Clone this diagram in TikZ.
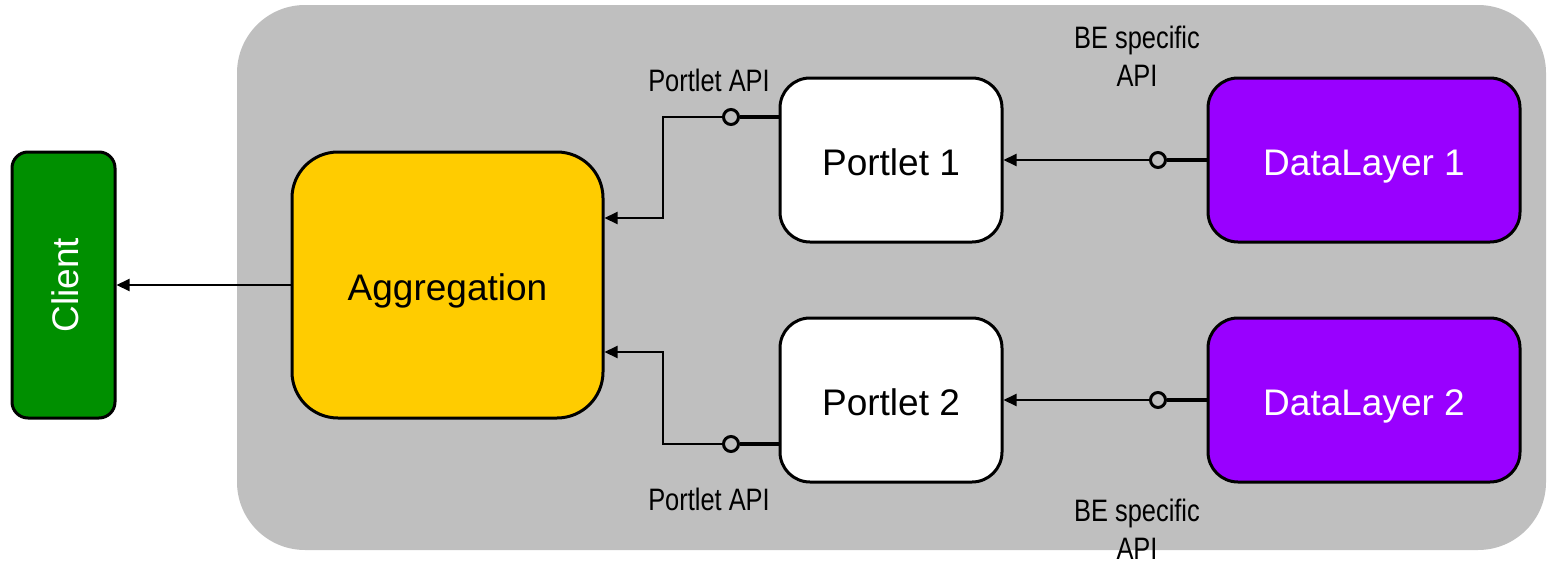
\documentclass[tikz,border=0pt]{standalone}
\usepackage{fontspec}
\setmainfont{Liberation Sans}
\newfontfamily\narrowfont[FakeStretch=0.82]{Liberation Sans}
\usetikzlibrary{arrows.meta,calc}
\definecolor{bggray}{HTML}{BFBFBF}
\definecolor{clientgreen}{HTML}{008F00}
\definecolor{agggold}{HTML}{FFCC00}
\definecolor{dlpurple}{HTML}{9900FF}
\tikzset{
  box/.style={draw=black, line width=3pt, inner sep=0pt, text height=30pt, text depth=0pt, font=\fontsize{37}{44}\selectfont},
  conn/.style={draw=black, line width=2pt, -{Triangle[length=13pt,width=12pt]}},
  stub/.style={draw=black, line width=4pt},
  iface/.style={circle, draw=black, line width=3pt, fill=bggray, minimum size=15pt, inner sep=0pt},
  lbl/.style={font=\narrowfont\fontsize{31}{38}\selectfont, align=center, inner sep=0pt}
}
\begin{document}
\begin{tikzpicture}[x=1pt,y=-1pt]
\useasboundingbox (0,0) rectangle (1548,562);
% container
\fill[bggray, rounded corners=68pt] (237,5) rectangle (1546,550);
% nodes
\node[box, fill=clientgreen, text=white, rounded corners=16pt, minimum width=103pt, minimum height=266pt] (client) at (63.5,285) {};
\node[text=white, rotate=90, font=\fontsize{37}{44}\selectfont, inner sep=0pt, text height=30pt, text depth=0pt] (clientlbl) at (client.center) {Client};
\node[box, fill=agggold, rounded corners=46pt, minimum width=311pt, minimum height=266pt] (agg) at (447.5,285) {Aggregation};
\node[box, fill=white, rounded corners=30pt, minimum width=222pt, minimum height=164pt] (p1) at (891,160) {Portlet 1};
\node[box, fill=white, rounded corners=30pt, minimum width=222pt, minimum height=164pt] (p2) at (891,400) {Portlet 2};
\node[box, fill=dlpurple, text=white, rounded corners=30pt, minimum width=312pt, minimum height=164pt] (d1) at (1364,160) {DataLayer 1};
\node[box, fill=dlpurple, text=white, rounded corners=30pt, minimum width=312pt, minimum height=164pt] (d2) at (1364,400) {DataLayer 2};
% interfaces
\node[iface] (c1) at (731,117) {};
\node[iface] (c2) at (731,444) {};
\node[iface] (c3) at (1158,160) {};
\node[iface] (c4) at (1158,400) {};
% labels
\node[lbl] (l1) at (709,80) {Portlet API};
\node[lbl] (l2) at (709,499) {Portlet API};
\node[lbl] (l3) at (1137,56) {BE specific\\API};
\node[lbl] (l4) at (1137,529) {BE specific\\API};
% connectors
\draw[conn] (agg.west) -- (client.east);
\draw[stub] (p1.west |- c1) -- (c1.east);
\draw[conn] (c1.west) -| ($(agg.east)+(58,-67)$) -- ($(agg.east)+(0,-67)$);
\draw[stub] (p2.west |- c2) -- (c2.east);
\draw[conn] (c2.west) -| ($(agg.east)+(58,67)$) -- ($(agg.east)+(0,67)$);
\draw[stub] (d1.west |- c3) -- (c3.east);
\draw[conn] (c3.west) -- (p1.east);
\draw[stub] (d2.west |- c4) -- (c4.east);
\draw[conn] (c4.west) -- (p2.east);
\end{tikzpicture}
\end{document}
